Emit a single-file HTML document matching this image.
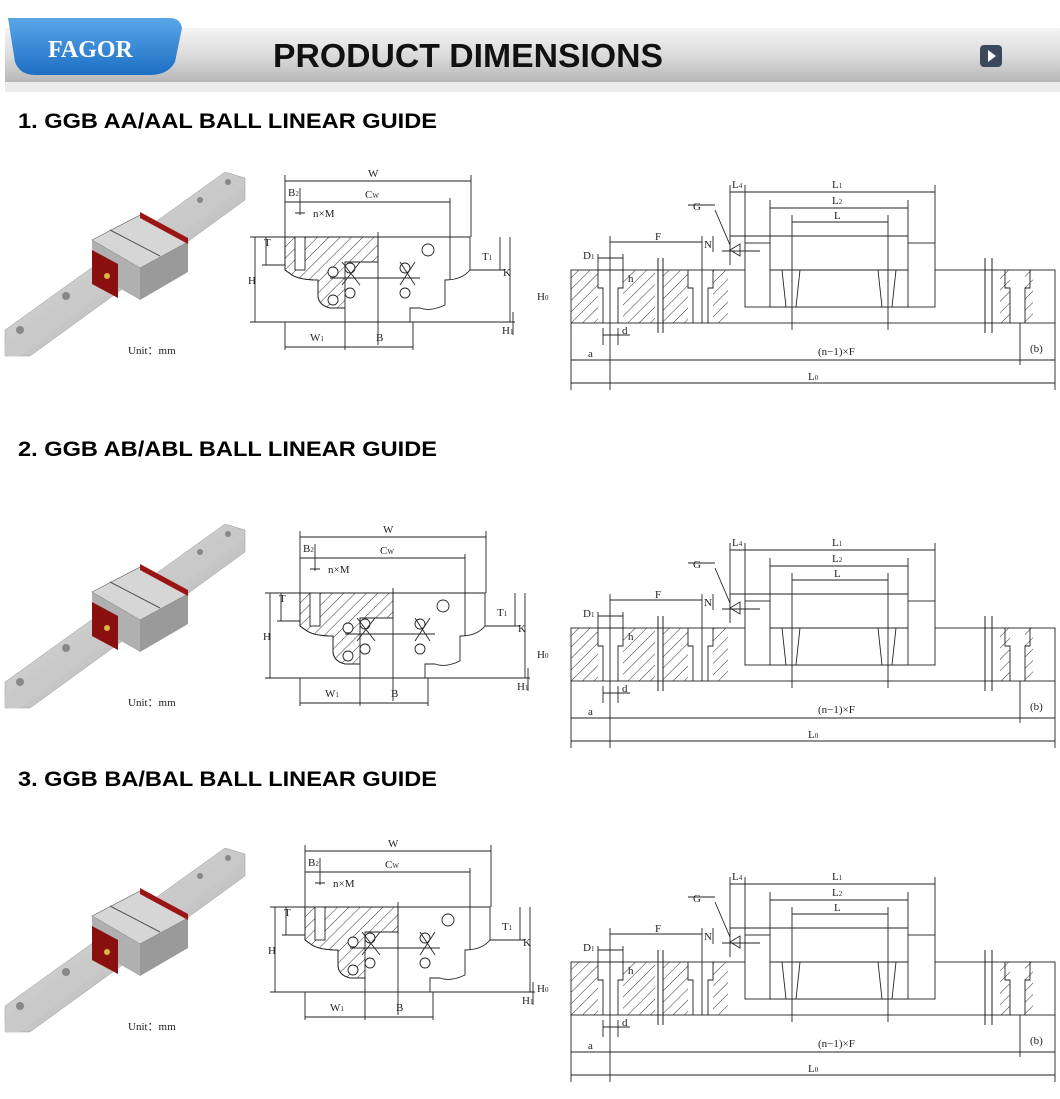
<!DOCTYPE html>
<html><head><meta charset="utf-8"><style>
html,body{margin:0;padding:0;background:#fff;}
svg{display:block}
.t{font-family:"Liberation Serif",serif;font-size:11px;fill:#222}
.h{font-family:"Liberation Sans",sans-serif;font-weight:bold;font-size:21px;fill:#000}
</style></head><body>
<svg width="1060" height="1099" viewBox="0 0 1060 1099" xmlns="http://www.w3.org/2000/svg">
<defs>
<linearGradient id="bar" x1="0" y1="0" x2="0" y2="1"><stop offset="0" stop-color="#f4f4f4"/><stop offset="0.5" stop-color="#dcdcdc"/><stop offset="1" stop-color="#b8b8b8"/></linearGradient>
<linearGradient id="blue" x1="0" y1="0" x2="0" y2="1"><stop offset="0" stop-color="#5aa6e8"/><stop offset="1" stop-color="#1d6fc4"/></linearGradient>
<linearGradient id="rail" x1="0" y1="0" x2="1" y2="1"><stop offset="0" stop-color="#e8e8e8"/><stop offset="1" stop-color="#a9a9a9"/></linearGradient>
<pattern id="hat" width="8" height="8" patternUnits="userSpaceOnUse" patternTransform="rotate(45)"><line x1="0" y1="0" x2="0" y2="8" stroke="#333" stroke-width="1"/></pattern>
<g id="photo">
 <polygon points="5,330 225,172 245,178 245,200 30,356 5,356" fill="url(#rail)" stroke="#999" stroke-width="0.5"/>
 <polygon points="5,345 235,182 245,185 20,356 5,356" fill="#c9c9c9"/>
 <circle cx="228" cy="182" r="3" fill="#888"/><circle cx="200" cy="200" r="3" fill="#888"/><circle cx="66" cy="296" r="4" fill="#888"/><circle cx="20" cy="330" r="4" fill="#888"/>
 <polygon points="92,240 140,215 188,242 140,268" fill="#d6d6d6" stroke="#666" stroke-width="0.6"/>
 <polygon points="92,240 140,268 140,300 92,272" fill="#b0b0b0"/>
 <polygon points="92,250 118,264 118,298 92,284" fill="#8a1010"/>
 <polygon points="140,268 188,242 188,272 140,300" fill="#9a9a9a"/>
 <polygon points="140,212 188,238 188,244 140,218" fill="#9b1515"/>
 <line x1="110" y1="230" x2="160" y2="256" stroke="#555"/>
 <circle cx="107" cy="276" r="3" fill="#d8b640"/>
 <text x="128" y="354" class="t" font-size="12">Unit：mm</text>
</g>
<g id="cross">
<g fill="none" stroke="#222" stroke-width="0.9">
 <path d="M285,237 H470 V270 Q462,280 445,280 V305 Q430,312 420,308 H410 V322 H345 V308 H330 Q318,305 318,295 V280 Q300,280 292,275 L285,270 Z" fill="#fff"/>
 <path d="M285,237 H378 V262 L345,262 V308 H330 Q318,305 318,295 V280 Q300,280 292,275 L285,270 Z" fill="url(#hat)"/>
 <rect x="295" y="237" width="10" height="33" fill="#fff"/>
 <circle cx="333" cy="272" r="5" fill="#fff"/><circle cx="333" cy="300" r="5" fill="#fff"/>
 <circle cx="350" cy="268" r="5"/><circle cx="350" cy="293" r="5"/><circle cx="405" cy="268" r="5"/><circle cx="405" cy="293" r="5"/>
 <circle cx="428" cy="250" r="6"/>
 <path d="M285,181 H471 M285,202 H450 M285,175 V237 M471,175 V237 M450,198 V280 M255,237 V322 M250,237 H285 M250,322 H515 M266,237 V265 M262,265 H285 M500,237 V270 M510,237 V322 M470,270 H505 M513,312 V335 M285,347 H413 M285,322 V350 M345,322 V350 M413,322 V350 M378,232 V345 M330,278 H420 M295,213 H305 M300,188 V215"/>
 <path d="M342,262 L360,285 M360,262 L342,285 M400,262 L415,285 M415,262 L400,285"/>
</g>
<g class="t">
<text x="368" y="177">W</text><text x="365" y="198">C<tspan font-size="7">W</tspan></text><text x="288" y="196">B<tspan font-size="7">2</tspan></text><text x="313" y="217">n×M</text>
<text x="264" y="246">T</text><text x="248" y="284">H</text><text x="482" y="260">T<tspan font-size="7">1</tspan></text><text x="503" y="276">K</text><text x="502" y="334">H<tspan font-size="7">1</tspan></text>
<text x="310" y="341">W<tspan font-size="7">1</tspan></text><text x="376" y="341">B</text>
</g>
</g>
<g id="side">
<g fill="none" stroke="#222" stroke-width="0.9">
 <rect x="571" y="270" width="484" height="53" fill="#fff"/>
 <rect x="571" y="270" width="27" height="53" fill="url(#hat)" stroke="none"/>
 <rect x="623" y="270" width="32" height="53" fill="url(#hat)" stroke="none"/>
 <rect x="663" y="270" width="25" height="53" fill="url(#hat)" stroke="none"/>
 <rect x="713" y="270" width="15" height="53" fill="url(#hat)" stroke="none"/>
 <rect x="1000" y="270" width="10" height="53" fill="url(#hat)" stroke="none"/>
 <rect x="1025" y="270" width="8" height="53" fill="url(#hat)" stroke="none"/>
 <path d="M598,270 V288 H603 V323 M618,323 V288 H623 V270 M598,270 H623 M688,270 V288 H693 V323 M708,323 V288 H713 V270 M1005,270 V288 H1010 V323 M1025,323 V288 H1030 V270"/>
 <path d="M658,258 V333 M663,258 V333 M985,258 V333 M992,258 V333" stroke-width="1"/>
 <rect x="745" y="243" width="190" height="64" fill="#fff"/>
 <rect x="770" y="236" width="138" height="71" fill="#fff"/>
 <path d="M782,270 L786,307 M800,270 L796,307 M878,270 L882,307 M896,270 L892,307 M770,270 H908"/>
 <path d="M730,250 L740,244 V256 Z M722,251 H760"/>
 <path d="M745,185 V243 M935,185 V243 M730,185 V265 M770,200 V236 M908,200 V236 M792,215 V330 M888,215 V330 M730,192 H935 M770,208 H908 M792,222 H888 M610,242 H702 M610,236 V390 M702,236 V323 M598,258 H623 M598,254 V270 M623,254 V270 M730,236 H908 M713,236 V252 M571,323 V390 M1055,323 V390 M1020,323 V365 M571,360 H1055 M571,383 H1055 M603,328 V345 M618,328 V345 M603,335 H630 M715,210 L730,245 M688,205 H715"/>
</g>
<g class="t">
<text x="832" y="188">L<tspan font-size="7">1</tspan></text><text x="832" y="204">L<tspan font-size="7">2</tspan></text><text x="834" y="219">L</text><text x="732" y="188">L<tspan font-size="7">4</tspan></text>
<text x="655" y="240">F</text><text x="693" y="210">G</text><text x="704" y="248">N</text><text x="583" y="259">D<tspan font-size="7">1</tspan></text><text x="628" y="282">h</text>
<text x="537" y="300">H<tspan font-size="7">0</tspan></text><text x="622" y="334">d</text><text x="588" y="357">a</text><text x="818" y="355">(n−1)×F</text><text x="1030" y="352">(b)</text><text x="808" y="380">L<tspan font-size="7">0</tspan></text>
</g>
</g>
</defs>
<rect x="5" y="28" width="1055" height="54" fill="url(#bar)"/>
<rect x="5" y="82" width="1055" height="10" fill="#ececec"/>
<path d="M8,18 H170 Q180,18 182,28 L175,62 Q168,75 150,75 H35 Q20,75 15,62 Z" fill="url(#blue)"/>
<text x="48" y="57" font-family="Liberation Serif,serif" font-weight="bold" font-size="24" fill="#fff">FAGOR</text>
<text x="273" y="67" font-family="Liberation Sans,sans-serif" font-weight="bold" font-size="33" fill="#111" textLength="390" lengthAdjust="spacingAndGlyphs">PRODUCT DIMENSIONS</text>
<rect x="980" y="45" width="22" height="22" rx="4" fill="#3a4a5c"/><polygon points="988,50 996,56 988,62" fill="#fff"/>
<text x="18" y="128" class="h" textLength="419" lengthAdjust="spacingAndGlyphs">1.  GGB AA/AAL BALL LINEAR GUIDE</text>
<text x="18" y="456" class="h" textLength="419" lengthAdjust="spacingAndGlyphs">2.  GGB AB/ABL BALL LINEAR GUIDE</text>
<text x="18" y="786" class="h" textLength="419" lengthAdjust="spacingAndGlyphs">3.  GGB BA/BAL BALL LINEAR GUIDE</text>

<use href="#photo"/><use href="#cross"/><use href="#side"/>
<use href="#photo" transform="translate(0,352)"/><use href="#cross" transform="translate(15,356)"/><use href="#side" transform="translate(0,358)"/>
<use href="#photo" transform="translate(0,676)"/><use href="#cross" transform="translate(20,670)"/><use href="#side" transform="translate(0,692)"/>
</svg>
</body></html>
